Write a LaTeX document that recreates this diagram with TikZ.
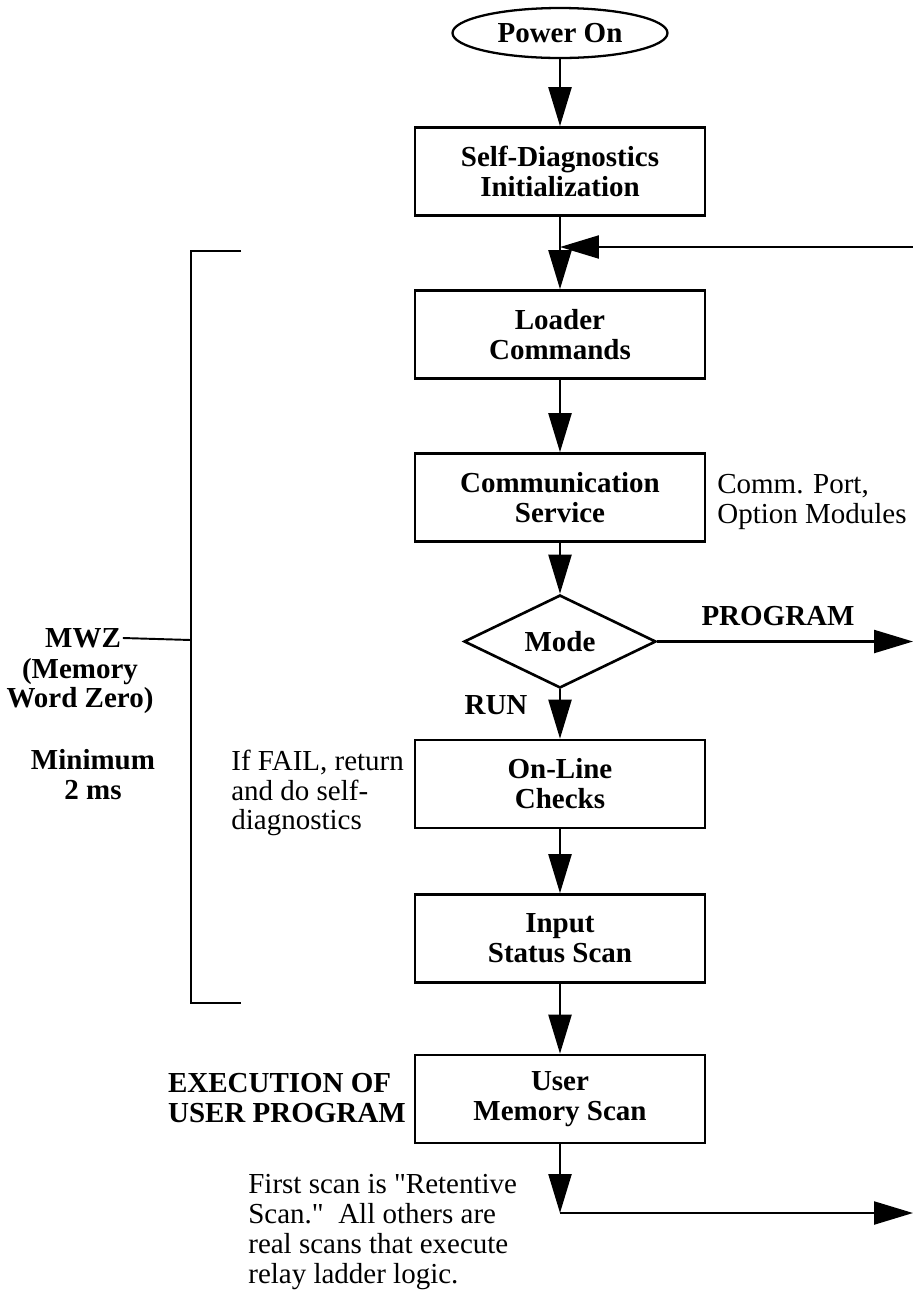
\documentclass[tikz,border=0pt]{standalone}
\usepackage{fontspec}
\setmainfont{Liberation Serif}
\newcommand\straightq{{\addfontfeatures{Ligatures=TeXOff}"}}
\usetikzlibrary{arrows.meta,shapes.geometric}
\begin{document}
\begin{tikzpicture}[x=0.02cm,y=-0.02cm,
  txt/.style={font=\fontsize{16.5}{17}\selectfont},
  btxt/.style={font=\fontsize{16.5}{17}\selectfont\bfseries},
  box/.style={draw,line width=1.5pt,minimum width=5.8cm,minimum height=1.76cm,
    align=center,inner sep=0pt,btxt},
  conn/.style={line width=1.3pt,-{Triangle[length=0.78cm,width=0.46cm]}},
  plain/.style={line width=1.3pt}]
\useasboundingbox (0,0) rectangle (913,1296);

% main flow
\node[ellipse,draw,line width=1.3pt,minimum width=4.3cm,minimum height=1cm,inner sep=0pt,btxt] (power) at (560,33) {Power On};
\node[box] (diag) at (560,171.5) {Self-Diagnostics\\Initialization};
\node[box] (loader) at (560,334.5) {Loader\\Commands};
\node[box] (comm) at (560,497.5) {Communication\\Service};
\node[diamond,draw,line width=1.5pt,minimum width=3.84cm,minimum height=1.86cm,inner sep=0pt,aspect=2,btxt] (mode) at (560,641.5) {Mode};
\node[box] (online) at (560,784) {On-Line\\Checks};
\node[box] (input) at (560,938.5) {Input\\Status Scan};
\node[box] (user) at (560,1099) {User\\Memory Scan};

% coordinates for free ends
\coordinate (join) at (560,247);
\coordinate (loopin) at (913,247);
\coordinate (progout) at (913,641.5);
\coordinate (corner) at (560,1213);
\coordinate (scanout) at (913,1213);

% connectors
\draw[conn] (power) -- (diag);
\draw[conn] (diag) -- (loader);
\draw[conn] (loopin) -- (join);
\draw[conn] (loader) -- (comm);
\draw[conn] (comm) -- (mode);
\draw[conn] (mode) -- (progout);
\draw[conn] (mode) -- (online);
\draw[conn] (online) -- (input);
\draw[conn] (input) -- (user);
\draw[conn] (user) -- (corner);
\draw[conn] (corner) -- (scanout);

% labels
\node[btxt] (program) at (778,616) {PROGRAM};
\node[btxt] (run) at (496,705) {RUN};
\node[txt,anchor=west,align=left,inner sep=0pt] (commnote) at (717,502) {Comm. Port,\\Option Modules};
\node[txt,anchor=west,align=left,inner sep=0pt] (failnote) at (231,793) {If FAIL, return\\and do self-\\diagnostics};
\node[btxt,anchor=east,align=left,inner sep=0pt] (exec) at (406,1098) {EXECUTION OF\\USER PROGRAM};
\node[txt,anchor=west,align=left,inner sep=0pt] (scannote) at (248,1232) {First scan is \straightq Retentive\\Scan.\straightq\ \ All others are\\real scans that execute\\relay ladder logic.};

% bracket
\coordinate (btop) at (241,251);
\coordinate (bl1) at (191,251);
\coordinate (bmid) at (191,640);
\coordinate (bl2) at (191,1003);
\coordinate (bbot) at (241,1003);
\draw[line width=1.5pt] (btop) -- (bl1) -- (bl2) -- (bbot);
\node[btxt,inner sep=1pt] (mwz) at (83,638) {MWZ};
\draw[plain,line width=1.1pt] (mwz.east) -- (bmid);
\node[btxt,align=center,inner sep=0pt] (memword) at (80,686) {(Memory\\Word Zero)};
\node[btxt,align=center,inner sep=0pt] (minimum) at (93,775) {Minimum\\2 ms};
\end{tikzpicture}
\end{document}
